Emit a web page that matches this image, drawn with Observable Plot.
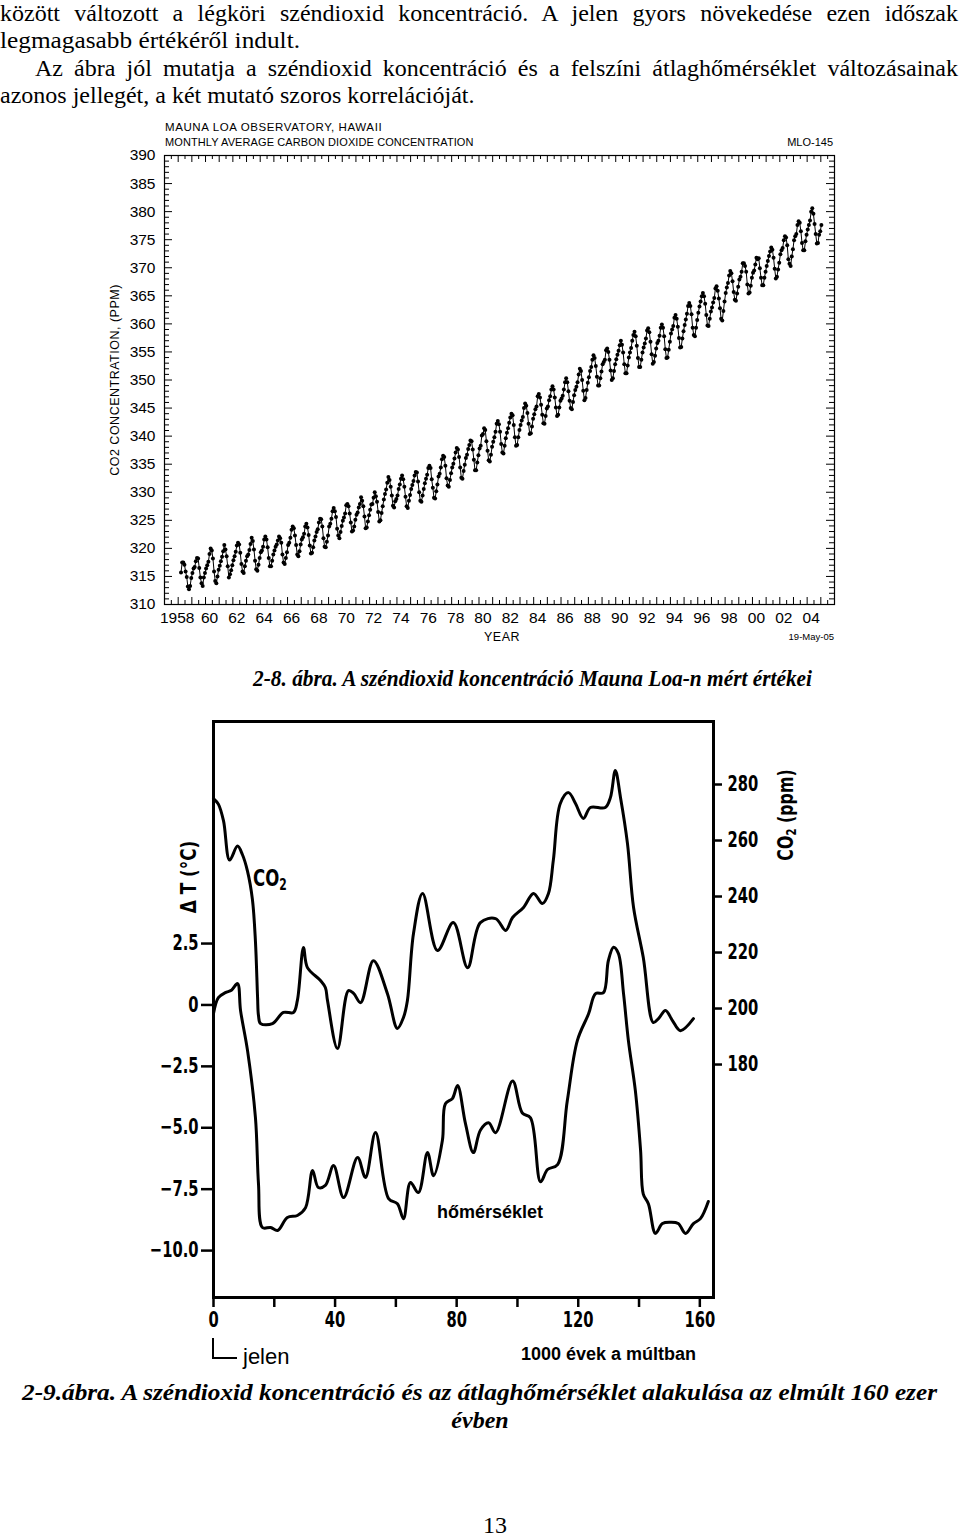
<!DOCTYPE html>
<html><head><meta charset="utf-8">
<script src="https://cdn.jsdelivr.net/npm/d3@7"></script>
<script src="https://cdn.jsdelivr.net/npm/@observablehq/plot@0.6"></script>
<style>
html,body{margin:0;padding:0;background:#fff;}
#page{position:relative;width:960px;height:1537px;overflow:hidden;background:#fff;}
.serif{position:absolute;font-family:"Liberation Serif","Times New Roman",serif;font-size:24px;line-height:24px;color:#000;white-space:nowrap;}
.bi{font-weight:bold;font-style:italic;}
.t{position:absolute;white-space:nowrap;line-height:1;color:#000;}
.plt{font-family:"Liberation Sans",Arial,sans-serif;}
.cond{font-family:"DejaVu Sans Condensed","DejaVu Sans",sans-serif;font-stretch:condensed;font-weight:bold;}
.arial{font-family:"Liberation Sans",Arial,sans-serif;}
#c1{position:absolute;left:100px;top:115px;}
#c2{position:absolute;left:147px;top:703px;}
</style></head>
<body><div id="page">
<div class="serif" data-fit="958" data-mode="justify" style="left:0;top:1px">között változott a légköri széndioxid koncentráció. A jelen gyors növekedése ezen időszak</div>
<div class="serif" data-fit="300" style="left:0;top:28px">legmagasabb értékéről indult.</div>
<div class="serif" data-fit="923" data-mode="justify" style="left:35px;top:56px">Az ábra jól mutatja a széndioxid koncentráció és a felszíni átlaghőmérséklet változásainak</div>
<div class="serif" style="left:0;top:83px">azonos jellegét, a két mutató szoros korrelációját.</div>

<div id="c1"></div>
<div id="c2"></div>

<div class="serif bi" data-fit="559" style="left:253px;top:666px">2-8. ábra. A széndioxid koncentráció Mauna Loa-n mért értékei</div>
<div class="serif bi" data-fit="915" style="left:22px;top:1380px">2-9.ábra. A széndioxid koncentráció és az átlaghőmérséklet alakulása az elmúlt 160 ezer</div>
<div class="serif bi" style="left:480px;top:1408px;transform:translateX(-50%)">évben</div>
<div class="serif" style="left:483px;top:1513px">13</div>
</div>
<script>
// ---------- Chart 1: Mauna Loa monthly CO2 (ppm) ----------
const mloYears = [1958,1959,1960,1961,1962,1963,1964,1965,1966,1967,1968,1969,1970,1971,1972,1973,1974,1975,1976,1977,1978,1979,1980,1981,1982,1983,1984,1985,1986,1987,1988,1989,1990,1991,1992,1993,1994,1995,1996,1997,1998,1999,2000,2001,2002,2003,2004,2005];
const mloValues = [
[null,null,315.7,317.5,317.5,317.1,315.9,314.9,313.2,312.7,313.3,314.7],
[315.6,316.4,316.7,317.7,318.3,318.2,316.5,314.8,313.8,313.3,314.8,315.6],
[316.4,317.0,317.6,319.0,320.0,319.6,318.2,315.9,314.2,313.8,315.0,316.2],
[316.9,317.7,318.5,319.5,320.6,319.8,318.6,316.8,314.8,315.4,316.1,317.0],
[317.9,318.6,319.4,320.5,321.0,320.7,319.2,317.2,315.9,315.6,316.8,317.8],
[318.6,318.9,319.7,320.8,321.9,321.3,319.8,317.8,316.3,316.0,317.1,318.3],
[319.3,319.6,320.3,321.6,322.1,321.6,320.2,318.3,316.8,316.8,317.8,318.9],
[319.6,320.3,320.7,321.4,322.1,321.8,321.0,318.9,317.5,317.2,318.3,319.3],
[320.6,321.0,321.9,323.3,323.9,323.6,322.3,320.6,318.9,318.6,319.5,320.7],
[321.6,322.0,322.6,323.9,324.4,323.7,322.4,320.5,319.1,319.2,320.2,321.4],
[322.1,322.9,323.4,324.6,325.3,325.2,323.9,321.8,320.3,320.2,321.2,322.3],
[323.9,324.4,325.3,326.6,327.2,326.6,325.6,323.5,322.3,321.8,322.9,324.0],
[324.9,325.5,326.2,327.7,327.9,327.5,326.2,324.6,323.0,323.2,323.9,325.1],
[326.0,326.4,327.3,327.9,329.1,328.5,327.5,325.7,323.6,323.7,324.8,325.9],
[326.9,327.8,327.9,329.0,330.0,329.3,328.3,326.5,324.8,325.0,326.3,327.5],
[328.7,329.7,330.5,331.7,332.7,332.2,331.0,329.4,327.6,327.3,328.4,328.8],
[329.4,330.6,331.4,332.4,333.0,332.3,331.0,329.2,327.5,327.2,328.5,329.5],
[330.6,331.3,332.0,333.0,333.6,333.5,331.9,330.0,328.5,328.3,329.4,330.6],
[331.6,332.4,333.1,334.3,334.7,334.3,332.3,330.8,329.0,328.9,330.2,331.4],
[332.8,333.3,334.4,335.9,336.5,336.3,334.7,332.5,331.2,331.0,332.2,333.4],
[334.4,335.1,336.0,337.1,337.9,337.6,336.3,334.4,332.6,332.4,333.8,334.9],
[336.1,336.7,337.7,338.4,339.2,339.1,337.6,335.8,333.9,333.9,335.3,336.6],
[337.8,338.3,340.1,340.4,341.4,341.1,339.1,337.4,335.7,335.5,336.7,338.1],
[339.0,339.8,340.8,342.2,342.7,342.1,340.8,338.6,337.1,336.9,338.3,339.6],
[340.6,341.4,342.4,343.3,344.0,343.7,342.0,339.8,338.3,338.4,339.8,341.1],
[342.0,342.8,343.4,345.0,345.8,345.4,344.1,342.2,340.4,340.5,341.7,343.1],
[343.9,344.8,345.3,347.1,347.5,346.9,345.6,343.8,342.3,342.2,343.6,344.9],
[345.3,346.4,347.1,348.3,348.9,348.3,346.9,345.1,343.6,343.8,345.1,346.3],
[346.7,347.2,348.3,349.6,350.3,349.6,348.0,346.3,345.0,344.8,346.1,347.3],
[348.2,348.8,349.6,351.0,352.0,351.6,350.0,348.1,346.4,346.8,348.2,349.5],
[350.5,351.6,352.3,353.6,354.4,353.9,352.5,350.6,349.0,349.0,350.3,351.5],
[352.8,353.2,353.6,355.3,355.6,355.0,353.6,351.7,350.0,350.3,351.6,352.8],
[353.7,354.5,355.2,356.2,357.0,356.3,354.9,352.8,351.2,351.2,352.6,354.0],
[354.9,355.7,357.0,358.0,358.6,357.8,356.1,353.9,352.3,352.3,353.6,354.9],
[355.8,356.5,357.4,358.8,359.2,358.5,356.8,354.6,352.9,353.2,354.3,355.6],
[356.6,357.0,357.9,359.3,359.9,359.3,357.8,355.5,353.9,354.0,355.4,356.8],
[358.3,359.0,359.6,361.1,361.6,360.9,359.5,357.5,355.8,355.9,357.4,358.7],
[359.8,360.8,361.8,363.2,363.7,363.2,361.7,359.3,358.0,357.8,359.3,360.7],
[362.0,363.1,364.0,364.9,365.5,364.9,363.6,361.6,359.7,359.6,360.9,362.2],
[362.9,363.8,364.6,366.3,366.7,365.9,364.5,362.8,360.9,360.6,362.3,364.0],
[365.5,366.5,367.3,368.6,369.4,369.0,367.6,365.7,364.3,364.1,365.4,366.6],
[367.9,368.4,369.3,370.8,370.8,370.3,369.3,367.0,365.4,365.6,366.8,368.2],
[369.1,369.5,370.6,371.8,371.5,371.7,369.9,368.2,366.9,366.9,368.2,369.3],
[370.3,371.2,372.1,372.9,373.6,373.2,371.8,369.8,368.1,368.4,369.7,370.9],
[372.4,373.1,373.5,374.9,375.6,375.4,374.0,371.5,370.7,370.3,372.0,373.3],
[374.9,375.6,376.0,377.6,378.3,378.0,376.5,374.4,373.1,373.1,374.7,375.9],
[376.8,377.6,378.4,380.0,380.6,379.6,377.8,376.0,374.3,374.4,375.9,376.5],
[377.6,null,null,null,null,null,null,null,null,null,null,null]
];
const mloYearLabels = [1960,1962,1964,1966,1968,1970,1972,1974,1976,1978,1980,1982,1984,1986,1988,1990,1992,1994,1996,1998,2000,2002,2004];
const mloFirstYearLabel = [1958];
const mloPpmLabels = [310,315,320,325,330,335,340,345,350,355,360,365,370,375,380,385,390];
const mloXDomain = [1957, 2006];
const mloYDomain = [310, 390];

// ---------- Chart 2: Vostok CO2 (ppm) and temperature change (°C) ----------
const vostokCo2Age = [0,1.6,3.3,5.3,7.9,9.5,11.2,12.8,13.8,14.5,14.8,15.5,19.4,23.0,26.3,27.6,29.6,30.9,35.2,36.8,37.5,40.8,44.4,46.1,48.4,52.6,57.2,60.5,62.5,63.8,65.8,68.8,73.7,78.9,83.6,87.8,92.8,96.1,98.4,102.0,105.3,108.2,110.2,111.8,114.1,116.8,119.1,121.7,124.0,128.9,130.6,132.2,133.9,136.2,138.2,141.4,144.7,146.4,148.7,151.0,153.6,157.9];
const vostokCo2Ppm = [275,273,267,253,258,255,249,239,224,204,197.5,194.6,194.6,198.6,198.6,202.9,221.8,214.6,210,207.5,202.9,185.7,206.4,205.4,202.1,217.1,205.4,192.9,196.8,202.9,226.8,241.1,220.7,230.7,214.6,230.7,232.1,227.9,232.5,236.1,241.1,237.5,241.1,252.9,273.2,277.1,273.2,267.9,271.8,271.8,275.4,285,275.4,258.9,236.1,218.2,195,196.4,199.3,195.7,192.1,196.4];
const vostokTAge = [0,1.6,3.9,5.9,7.9,8.9,11.2,13.8,14.8,16.1,18.8,21.1,24.3,27.6,30.3,32.6,34.5,36.8,39.5,42.8,47.4,50.0,53.3,57.6,60.5,62.5,64.8,67.4,70.4,72.4,75.3,76.3,78.6,80.3,82.9,85.5,87.8,90.5,92.8,98.4,101.6,104.3,107.6,109.9,113.2,116.4,119.7,123.4,125.7,128.3,129.9,131.6,133.2,134.9,136.5,138.8,140.5,141.4,143.1,145.4,147.7,150.3,152.9,155.3,157.9,160.2,162.8];
const vostokTDelta = [-0.35,0.3,0.5,0.6,0.87,-0.23,-1.86,-4.59,-7.28,-9.06,-9.06,-9.18,-8.65,-8.57,-8.25,-6.74,-7.43,-7.35,-6.54,-7.84,-6.21,-7.02,-5.19,-7.88,-8.09,-8.7,-7.23,-7.64,-6.01,-6.95,-5.52,-4.02,-3.81,-3.28,-4.83,-6.01,-5.1,-4.8,-5.2,-3.1,-4.4,-4.6,-7.2,-6.7,-6.5,-3.9,-1.45,-0.36,0.46,0.5,1.8,2.35,2.1,0.46,-1.45,-3.5,-5.9,-7.7,-8.1,-9.3,-8.9,-8.85,-8.9,-9.3,-8.9,-8.7,-8.0];
const tTicks = [2.5,0,-2.5,-5,-7.5,-10];
const tTickLabels = ["2.5","0","\u22122.5","\u22125.0","\u22127.5","\u221210.0"];
const co2Ticks = [280,260,240,220,200,180];
const ageTicks = [0,20,40,60,80,100,120,140,160];
const ageLabels = [0,40,80,120,160];
const vostokXDomain = [0, 164.5];
const vostokTDomain = [-11.91, 11.54];
const vostokCo2Domain = [96.8, 302.5];

// ---------- build chart 1 ----------
const W1=760,H1=535,ML1=64,MR1=26,MT1=40,MB1=46;
const fw1=W1-ML1-MR1, fh1=H1-MT1-MB1;
const mloRows=[];
mloYears.forEach((yr,i)=>mloValues[i].forEach((v,m)=>{ if(v!=null) mloRows.push({t: yr+(m+0.5)/12, v}); }));
const halfYears = d3.range(mloXDomain[0], mloXDomain[1]+0.001, 0.5);
const yrLong = halfYears.filter(d=>Number.isInteger(d));
const yrShort = halfYears.filter(d=>!Number.isInteger(d));
const ppmAll = d3.range(mloYDomain[0], mloYDomain[1]+1, 1);
const ppmLong = ppmAll.filter(d=>d%5===0);
const ppmShort = ppmAll.filter(d=>d%5!==0);
const sans = "'Liberation Sans', Arial, sans-serif";
const chart1 = Plot.plot({
  width:W1, height:H1, marginLeft:ML1, marginRight:MR1, marginTop:MT1, marginBottom:MB1,
  x:{domain:mloXDomain}, y:{domain:mloYDomain},
  style:{fontFamily:sans, fontSize:"15px", background:"transparent", color:"#000"},
  marks:[
    Plot.tickX(yrLong,{x:d=>d, insetTop:fh1-7, stroke:"#000"}),
    Plot.tickX(yrShort,{x:d=>d, insetTop:fh1-4, stroke:"#000"}),
    Plot.tickX(yrLong,{x:d=>d, insetBottom:fh1-7, stroke:"#000"}),
    Plot.tickX(yrShort,{x:d=>d, insetBottom:fh1-4, stroke:"#000"}),
    Plot.tickY(ppmLong,{y:d=>d, insetRight:fw1-8, stroke:"#000"}),
    Plot.tickY(ppmShort,{y:d=>d, insetRight:fw1-5, stroke:"#000"}),
    Plot.tickY(ppmLong,{y:d=>d, insetLeft:fw1-8, stroke:"#000"}),
    Plot.tickY(ppmShort,{y:d=>d, insetLeft:fw1-5, stroke:"#000"}),
    Plot.axisY(mloPpmLabels,{anchor:"left", tickSize:0, tickPadding:9, label:null, fontSize:15.5, fill:"#000"}),
    Plot.axisX(mloFirstYearLabel,{anchor:"bottom", tickSize:0, tickPadding:7, label:null, fontSize:15.5, fill:"#000", dx:-1,
      tickFormat:d=>String(d)}),
    Plot.axisX(mloYearLabels,{anchor:"bottom", tickSize:0, tickPadding:7, label:null, fontSize:15.5, fill:"#000", dx:4,
      tickFormat:d=>String(d%100).padStart(2,"0")}),
    Plot.line(mloRows,{x:"t", y:"v", stroke:"#000", strokeWidth:1}),
    Plot.dot(mloRows,{x:"t", y:"v", r:2, fill:"#000", stroke:null}),
    Plot.frame({stroke:"#000", strokeWidth:1.2})
  ]
});
document.getElementById("c1").appendChild(chart1);

// ---------- build chart 2 ----------
const W2=668,H2=667,ML2=66,MR2=102,MT2=18,MB2=73;
const co2ToT = d3.scaleLinear().domain(vostokCo2Domain).range(vostokTDomain);
const co2Rows = vostokCo2Age.map((a,i)=>({age:a, ppm:vostokCo2Ppm[i]}));
const tRows = vostokTAge.map((a,i)=>({age:a, dt:vostokTDelta[i]}));
const tLabelMap = new Map(tTicks.map((d,i)=>[d,tTickLabels[i]]));
const cond = "'DejaVu Sans Condensed','DejaVu Sans',sans-serif";
const chart2 = Plot.plot({
  width:W2, height:H2, marginLeft:ML2, marginRight:MR2, marginTop:MT2, marginBottom:MB2,
  x:{domain:vostokXDomain}, y:{domain:vostokTDomain},
  style:{fontFamily:cond, fontSize:"21px", fontWeight:"bold", background:"transparent", color:"#000"},
  marks:[
    Plot.axisY(tTicks,{anchor:"left", tickSize:12, tickPadding:3, strokeWidth:2.5, label:null, fontSize:21, fontWeight:"bold", fill:"#000", stroke:"#000",
      tickFormat:d=>tLabelMap.get(d)}),
    Plot.axisY(co2Ticks.map(c=>co2ToT(c)),{anchor:"right", tickSize:8, tickPadding:6, strokeWidth:2.5, label:null, fontSize:21, fontWeight:"bold", fill:"#000", stroke:"#000",
      tickFormat:d=>String(Math.round(co2ToT.invert(d)))}),
    Plot.axisX(ageTicks,{anchor:"bottom", tickSize:10, tickPadding:5, strokeWidth:2.5, label:null, fontSize:21, fontWeight:"bold", fill:"#000", stroke:"#000",
      tickFormat:d=> ageLabels.includes(d) ? String(d) : ""}),
    Plot.line(co2Rows,{x:"age", y:d=>co2ToT(d.ppm), curve:"catmull-rom", stroke:"#000", strokeWidth:3}),
    Plot.line(tRows,{x:"age", y:"dt", curve:"catmull-rom", stroke:"#000", strokeWidth:3}),
    Plot.frame({stroke:"#000", strokeWidth:3})
  ]
});
// condense the tick labels horizontally, like the narrow bold face of the original
chart2.querySelectorAll('g[aria-label$="tick label"] text').forEach(t=>{
  t.setAttribute("transform", (t.getAttribute("transform")||"") + " scale(0.78,1)");
});
document.getElementById("c2").appendChild(chart2);

// ---------- overlay labels ----------
const page = document.getElementById("page");
function label(text, o){
  const el = document.createElement("div");
  el.className = "t " + (o.cls||"");
  el.innerHTML = text;
  el.style.left = o.x+"px"; el.style.top = o.y+"px";
  el.style.fontSize = o.size+"px";
  if (o.weight) el.style.fontWeight = o.weight;
  if (o.ls) el.style.letterSpacing = o.ls+"px";
  const ax = o.anchor==="end" ? "-100%" : o.anchor==="middle" ? "-50%" : "0";
  el.style.transformOrigin = o.anchor==="middle" ? "50% 50%" : "0 50%";
  el.style.transform = `translate(${ax},-50%)` + (o.rotate ? ` rotate(${o.rotate}deg)` : "") + (o.sx ? ` scaleX(${o.sx})` : "");
  page.appendChild(el);
  return el;
}
// chart 1
label("MAUNA LOA OBSERVATORY, HAWAII",{x:165,y:128,size:11.5,cls:"plt",ls:0.6});
label("MONTHLY AVERAGE CARBON DIOXIDE CONCENTRATION",{x:165,y:142,size:11,cls:"plt",ls:0.1});
label("MLO-145",{x:833,y:142,size:11,cls:"plt",anchor:"end"});
label("CO2 CONCENTRATION, (PPM)",{x:115,y:380,size:12.5,cls:"plt",anchor:"middle",rotate:-90,ls:0.5});
label("YEAR",{x:502,y:637,size:12.5,cls:"plt",anchor:"middle",ls:0.5});
label("19-May-05",{x:834,y:637,size:9.5,cls:"plt",anchor:"end"});
// chart 2
label("&Delta; T (°C)",{x:189,y:877,size:22,cls:"cond",anchor:"middle",rotate:-90,sx:0.85});
label("CO<sub style='font-size:14px;vertical-align:-3px'>2</sub> (ppm)",{x:786,y:815,size:22,cls:"cond",anchor:"middle",rotate:-90,sx:0.8});
label("CO<sub style='font-size:15px;vertical-align:-4px'>2</sub>",{x:253,y:880,size:23,cls:"cond",sx:0.8});
label("hőmérséklet",{x:437,y:1212,size:18,cls:"arial",weight:"bold"});
label("1000 évek a múltban",{x:521,y:1354,size:18,cls:"arial",weight:"bold"});
label("jelen",{x:243,y:1357,size:22,cls:"arial"});
const br = document.createElement("div");
br.style.cssText = "position:absolute;left:212px;top:1338px;width:23px;height:19px;border-left:2px solid #000;border-bottom:2px solid #000;";
page.appendChild(br);

// ---------- fit text lines to the widths of the original ----------
document.querySelectorAll("[data-fit]").forEach(el=>{
  const target = +el.dataset.fit;
  el.style.display = "inline-block";
  const w = el.getBoundingClientRect().width;
  const spaces = (el.textContent.match(/ /g)||[]).length;
  if (el.dataset.mode==="justify" && w < target && spaces) {
    el.style.wordSpacing = ((target-w)/spaces)+"px";
  } else {
    el.style.transformOrigin = "0 0";
    el.style.transform = `scaleX(${target/w})`;
  }
});
</script>
</body></html>
